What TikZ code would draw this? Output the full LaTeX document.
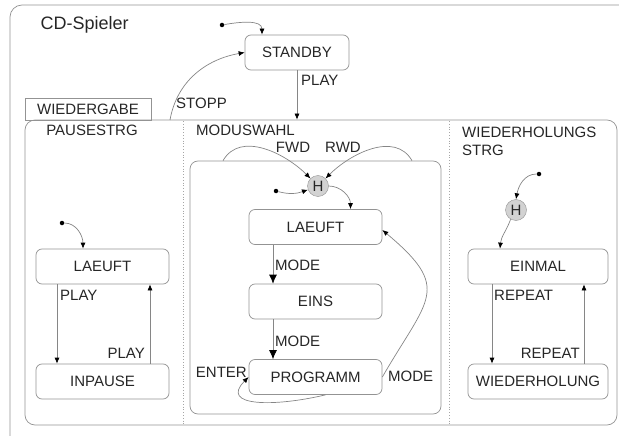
\documentclass[tikz,border=0pt]{standalone}
\usepackage{fontspec}
\setmainfont{Liberation Sans}
\usetikzlibrary{arrows.meta}

\begin{document}
\begin{tikzpicture}[x=1pt, y=-1pt,
    every node/.style={font=\fontsize{15}{18}\selectfont, text=black!85},
    zustand/.style={draw=gray!85, line width=0.7pt, rounded corners=6pt, minimum height=35pt, inner sep=0pt},
    hist/.style={circle, draw=gray!85, fill=gray!35, minimum size=21pt, inner sep=0pt},
    startpkt/.style={circle, fill=black, minimum size=4.5pt, inner sep=0pt},
    lbl/.style={inner sep=0pt},
    uebergang/.style={draw=gray!95, line width=0.7pt, -{Latex[length=6pt, width=5pt, color=black]}},
    grosspfeil/.style={uebergang, -{Latex[length=9pt, width=8pt, color=black]}},
    bereich/.style={draw=gray!85, line width=0.7pt},
    trenner/.style={draw=gray!70, dotted, line width=0.8pt}]

    \useasboundingbox (0,0) rectangle (619,436);

    % =================================================================
    % AEUSSERER RAHMEN: CD-SPIELER
    % =================================================================
    \begin{scope}
        \clip (0,0) rectangle (619,436);
        \draw[bereich, rounded corners=12pt] (10,5) rectangle (640,448);
    \end{scope}
    \node[anchor=west, font=\fontsize{18}{22}\selectfont] (titel) at (37,25) {CD-Spieler};

    % STANDBY mit Startpunkt
    \node[zustand, minimum width=104pt] (standby) at (297,52.5) {STANDBY};
    \node[startpkt] (startS) at (222,25) {};
    \draw[uebergang] (startS) to[out=10, in=90] ([xshift=-35pt]standby.north);

    % =================================================================
    % WIEDERGABE: Reiter und Bereich
    % =================================================================
    \node[draw=gray!85, line width=0.7pt, minimum width=126pt, minimum height=22pt, inner sep=0pt] (tab) at (88,109) {WIEDERGABE};
    \node[bereich, rounded corners=10pt, minimum width=592pt, minimum height=305pt, inner sep=0pt] (wiedergabe) at (321,272.5) {};

    \draw[uebergang] (standby.south) -- (standby.south |- wiedergabe.north);
    \node[lbl, anchor=west] (playS) at (301,80) {PLAY};
    \coordinate (stoppstart) at (170,120);
    \draw[uebergang] (stoppstart) to[out=80, in=190] (standby.west);
    \node[lbl, anchor=west] (stopp) at (176,103) {STOPP};

    % Trennlinien zwischen den Regionen
    \draw[trenner] (183,121) -- (183,424);
    \draw[trenner] (449,121) -- (449,424);

    % =================================================================
    % LINKS: PAUSESTRG
    % =================================================================
    \node[lbl] (pausestrg) at (92,130) {PAUSESTRG};
    \node[zustand, minimum width=133pt] (laeuftP) at (102.5,266.5) {LAEUFT};
    \node[zustand, minimum width=133pt] (inpause) at (102.5,381.5) {INPAUSE};
    \node[startpkt] (startP) at (62,223) {};
    \draw[uebergang] (startP) to[out=0, in=90] ([xshift=-19.5pt]laeuftP.north);

    \draw[uebergang] ([xshift=-45.5pt]laeuftP.south) -- ([xshift=-45.5pt]inpause.north);
    \draw[uebergang] ([xshift=47.5pt]inpause.north) -- ([xshift=47.5pt]laeuftP.south);
    \node[lbl, anchor=west] (playP1) at (60,295) {PLAY};
    \node[lbl, anchor=east] (playP2) at (145,353) {PLAY};

    % =================================================================
    % MITTE: MODUSWAHL
    % =================================================================
    \node[lbl, anchor=west] (moduswahl) at (196,130) {MODUSWAHL};
    \node[bereich, rounded corners=8pt, minimum width=251pt, minimum height=253pt, inner sep=0pt] (modus) at (315.5,287.5) {};

    \node[hist] (h1) at (318,186) {H};
    \node[startpkt] (startM) at (276,191) {};
    \draw[uebergang] (startM) to[out=-15, in=200] (h1);

    \draw[uebergang] ([xshift=-92.5pt]modus.north) to[out=60, in=135] (h1.north west);
    \draw[uebergang] ([xshift=96.5pt]modus.north) to[out=120, in=45] (h1.north east);
    \node[lbl] (fwd) at (293,147) {FWD};
    \node[lbl] (rwd) at (343,147) {RWD};

    \node[zustand, minimum width=133pt] (laeuftM) at (315.5,227) {LAEUFT};
    \node[zustand, minimum width=133pt] (eins) at (315.5,301.5) {EINS};
    \node[zustand, minimum width=133pt] (programm) at (315.5,377) {PROGRAMM};
    \draw[uebergang] (h1.east) to[out=0, in=90] ([xshift=35pt]laeuftM.north);

    \draw[grosspfeil] ([xshift=-42.5pt]laeuftM.south) -- ([xshift=-42.5pt]eins.north);
    \draw[grosspfeil] ([xshift=-42.5pt]eins.south) -- ([xshift=-42.5pt]programm.north);
    \node[lbl, anchor=west] (mode1) at (275,265) {MODE};
    \node[lbl, anchor=west] (mode2) at (275,341) {MODE};

    \draw[uebergang] (programm.east) to[out=60, in=-40, looseness=1.6] ([yshift=-3pt]laeuftM.east);
    \node[lbl, anchor=west] (mode3) at (388,376) {MODE};

    \draw[uebergang] ([xshift=10pt]programm.south) .. controls +(-50,12) and +(-30,30) .. (programm.west);
    \node[lbl, anchor=east] (enter) at (247,372) {ENTER};

    % =================================================================
    % RECHTS: WIEDERHOLUNGSSTRG
    % =================================================================
    \node[lbl, anchor=west, align=left] (wdhstrg) at (462,141) {WIEDERHOLUNGS\\STRG};
    \node[hist] (h2) at (516,210) {H};
    \node[startpkt] (startR) at (539,174) {};
    \draw[uebergang] (startR) to[out=180, in=80] (h2.north);

    \node[zustand, minimum width=140pt] (einmal) at (538,266.5) {EINMAL};
    \node[zustand, minimum width=140pt] (wdh) at (538,381.5) {WIEDERHOLUNG};
    \draw[uebergang] (h2.240) to[out=250, in=85] ([xshift=-38pt]einmal.north);

    \draw[uebergang] ([xshift=-46pt]einmal.south) -- ([xshift=-46pt]wdh.north);
    \draw[uebergang] ([xshift=46pt]wdh.north) -- ([xshift=46pt]einmal.south);
    \node[lbl, anchor=west] (rep1) at (494,295) {REPEAT};
    \node[lbl, anchor=east] (rep2) at (580,353) {REPEAT};

\end{tikzpicture}
\end{document}
